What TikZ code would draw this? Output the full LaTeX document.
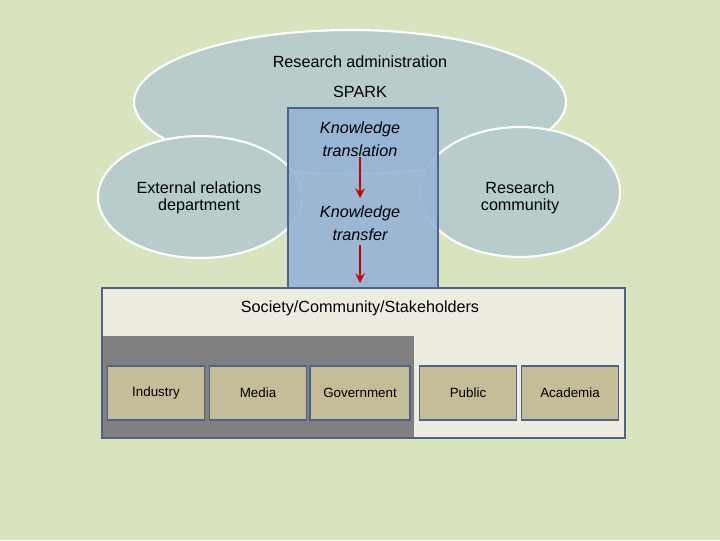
\documentclass[tikz,border=0pt]{standalone}
\usepackage{fontspec}
\setmainfont{Liberation Sans}
\usetikzlibrary{positioning}
\definecolor{bgcol}{RGB}{216,228,190}
\definecolor{ellcol}{RGB}{184,204,204}
\definecolor{spark}{RGB}{149,179,215}
\definecolor{edgeblue}{RGB}{79,98,140}
\definecolor{society}{RGB}{238,236,225}
\definecolor{sector}{RGB}{196,189,151}
\tikzset{
  circle area/.style={ellipse, draw=white, line width=1.5pt, fill=ellcol, inner sep=0pt},
  sector box/.style={draw=edgeblue, line width=1pt, fill=sector, minimum width=97pt*0.71, minimum height=54pt*0.71, font=\fontsize{9.5}{11}\selectfont},
  label text/.style={align=center, font=\fontsize{11.5}{12.5}\selectfont},
  flow/.style={->, >=stealth, red!80!black, line width=2pt}
}
\usetikzlibrary{shapes.geometric}
\begin{document}
\begin{tikzpicture}[x=0.025cm,y=-0.025cm]
\fill [bgcol] (0,0) rectangle (720,540);
\useasboundingbox (0,0) rectangle (720,540);
\node [circle area, minimum width=432*0.025cm, minimum height=144*0.025cm] (admin) at (350,102) {};
\node [circle area, minimum width=204*0.025cm, minimum height=122*0.025cm] (external) at (200,197) {};
\node [circle area, minimum width=200*0.025cm, minimum height=130*0.025cm] (research) at (520,192) {};
\draw [draw=edgeblue, line width=1.2pt, fill=spark, fill opacity=0.9] (288,108) rectangle (438,290);
\node [label text] at (360,62) {Research administration};
\node [label text] at (360,92) {SPARK};
\node [label text, font=\fontsize{11.5}{16}\selectfont\itshape] (translation) at (360,139) {Knowledge\\translation};
\node [label text, font=\fontsize{11.5}{16}\selectfont\itshape] (transfer) at (360,223) {Knowledge\\transfer};
\node [label text] at (199,198) {External relations\\department};
\node [label text] at (520,198) {Research\\community};
\draw [draw=edgeblue, line width=1.2pt, fill=society] (102,288) rectangle (625,438);
\fill [gray] (102,336) rectangle (414,438);
\draw [draw=edgeblue, line width=1.2pt] (102,288) rectangle (625,438);
\node [label text] at (360,308) {Society/Community/Stakeholders};
\node [sector box] (industry) at (156,393) {Industry};
\node [sector box] (media) at (258,393) {Media};
\node [sector box, minimum width=100pt*0.71] (government) at (360,393) {Government};
\node [sector box] (public) at (468,393) {Public};
\node [sector box] (academia) at (570,393) {Academia};
\coordinate (trans end) at (360,198);
\coordinate (soc top) at (360,283);
\draw [flow] (translation.south) ++(0,-4) coordinate (t1) -- (trans end);
\draw [flow] (transfer.south) -- (soc top);
\end{tikzpicture}
\end{document}
